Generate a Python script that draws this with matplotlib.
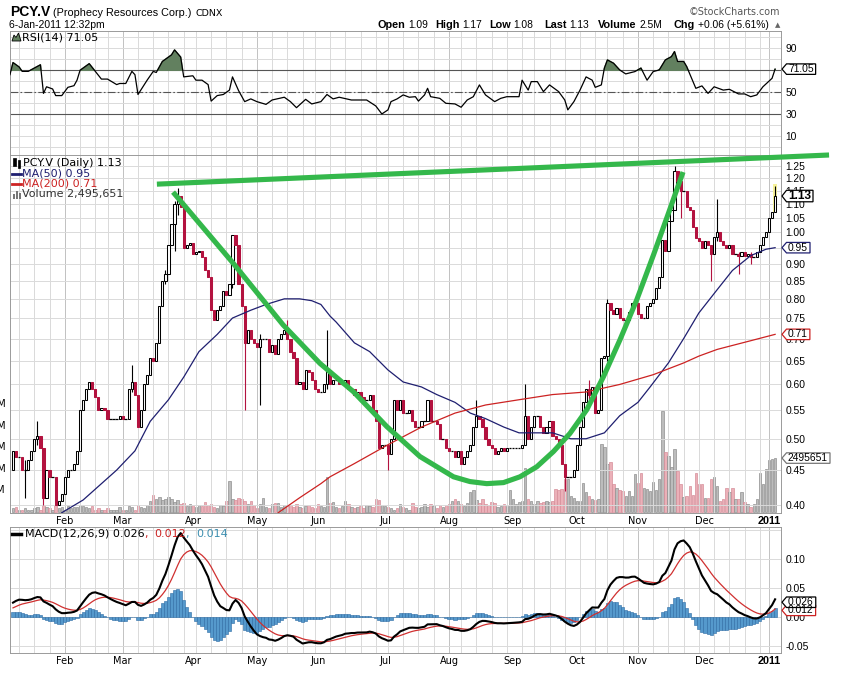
import numpy as np
import pandas as pd
import matplotlib
matplotlib.use("Agg")
import matplotlib.pyplot as plt
from matplotlib.lines import Line2D
from matplotlib.patches import Polygon, Rectangle
from matplotlib.ticker import NullLocator
from matplotlib.transforms import IdentityTransform, blended_transform_factory

W, H = 853, 676

# trading calendar, TSX-V holidays dropped
holidays = ['2010-02-15', '2010-04-02', '2010-05-24', '2010-07-01', '2010-08-02',
            '2010-09-06', '2010-10-11', '2010-12-27', '2010-12-28', '2011-01-03']

# daily closes (open taken as previous close)
first_open = 0.45
closes = [0.48, 0.47, 0.47, 0.45, 0.45, 0.465, 0.48, 0.50, 0.505, 0.485,
          0.41, 0.45, 0.44, 0.44, 0.40, 0.405, 0.415, 0.44, 0.45, 0.45,
          0.46, 0.48, 0.55, 0.57, 0.59, 0.605, 0.59, 0.575, 0.55, 0.555,
          0.55, 0.535, 0.535, 0.535, 0.535, 0.54, 0.535, 0.535, 0.59, 0.605,
          0.58, 0.52, 0.55, 0.60, 0.62, 0.655, 0.65, 0.69, 0.78, 0.85,
          0.87, 0.96, 1.03, 1.10, 1.13, 1.09, 0.95, 0.96, 0.965, 0.93,
          0.935, 0.94, 0.92, 0.88, 0.86, 0.77, 0.745, 0.77, 0.78, 0.82,
          0.81, 0.84, 0.99, 0.96, 0.84, 0.78, 0.69, 0.72, 0.70, 0.69,
          0.68, 0.70, 0.70, 0.70, 0.67, 0.685, 0.665, 0.70, 0.71, 0.72,
          0.70, 0.67, 0.655, 0.60, 0.605, 0.59, 0.63, 0.625, 0.61, 0.59,
          0.585, 0.585, 0.60, 0.63, 0.60, 0.61, 0.61, 0.60, 0.60, 0.61,
          0.59, 0.59, 0.58, 0.585, 0.575, 0.57, 0.57, 0.58, 0.55, 0.53,
          0.485, 0.49, 0.49, 0.475, 0.50, 0.57, 0.55, 0.57, 0.545, 0.545,
          0.55, 0.53, 0.52, 0.52, 0.53, 0.53, 0.57, 0.53, 0.53, 0.525,
          0.50, 0.50, 0.485, 0.48, 0.48, 0.47, 0.48, 0.46, 0.47, 0.48,
          0.49, 0.52, 0.54, 0.535, 0.52, 0.50, 0.49, 0.485, 0.475, 0.48,
          0.485, 0.48, 0.485, 0.485, 0.485, 0.485, 0.485, 0.49, 0.54, 0.50,
          0.52, 0.54, 0.54, 0.52, 0.51, 0.52, 0.53, 0.505, 0.50, 0.49,
          0.46, 0.44, 0.44, 0.44, 0.45, 0.49, 0.52, 0.565, 0.59, 0.58,
          0.595, 0.545, 0.55, 0.655, 0.66, 0.79, 0.77, 0.76, 0.775, 0.75,
          0.745, 0.745, 0.765, 0.79, 0.79, 0.76, 0.75, 0.75, 0.78, 0.79,
          0.80, 0.83, 0.86, 0.975, 0.94, 1.04, 1.08, 1.23, 1.19, 1.15,
          1.15, 1.09, 1.08, 1.02, 0.98, 0.97, 0.95, 0.97, 0.96, 0.93,
          0.985, 1.00, 0.97, 0.96, 0.95, 0.96, 0.93, 0.93, 0.925, 0.935,
          0.925, 0.93, 0.92, 0.92, 0.935, 0.96, 0.985, 1.00, 1.05, 1.07, 1.13]

# daily volume, millions
volume_m = [0.15, 0.2, 0.1, 0.1, 0.15, 0.1, 0.1, 0.15, 0.2, 0.1,
            0.3, 0.2, 0.15, 0.1, 0.3, 0.15, 0.2, 0.1, 0.25, 0.15,
            0.2, 0.2, 0.3, 0.25, 0.2, 0.15, 0.25, 0.1, 0.15, 0.1,
            0.1, 0.15, 0.1, 0.1, 0.1, 0.2, 0.1, 0.1, 0.25, 0.2,
            0.1, 0.3, 0.2, 0.15, 0.3, 0.5, 0.8, 0.6, 0.7, 0.55,
            0.6, 0.7, 0.6, 0.45, 0.55, 0.35, 0.4, 0.25, 0.35, 0.3,
            0.2, 0.3, 0.25, 0.45, 0.3, 0.35, 0.2, 0.15, 0.3, 0.25,
            0.5, 1.45, 0.6, 0.55, 0.65, 0.6, 0.5, 0.35, 0.5, 0.3,
            0.15, 0.35, 0.65, 0.2, 0.15, 0.35, 0.4, 0.4, 0.2, 0.3,
            0.25, 0.3, 0.2, 0.35, 0.2, 0.15, 0.25, 0.3, 0.2, 0.15,
            0.35, 0.25, 0.2, 1.6, 0.4, 0.45, 0.2, 0.15, 0.25, 0.5,
            0.35, 0.2, 0.15, 0.2, 0.25, 0.15, 0.3, 0.25, 0.2, 0.6,
            0.55, 0.3, 0.25, 0.2, 0.15, 0.1, 0.15, 0.35, 0.2, 0.15,
            0.1, 0.4, 0.2, 0.15, 0.2, 0.35, 0.2, 0.35, 0.25, 0.15,
            0.3, 0.2, 0.3, 0.35, 0.5, 0.6, 0.5, 0.35, 0.25, 0.4,
            0.9, 1.0, 0.55, 0.4, 0.6, 0.35, 0.3, 0.45, 0.4, 0.2,
            0.25, 0.35, 0.25, 1.0, 0.6, 0.35, 0.45, 0.5, 2.05, 0.6,
            0.5, 0.35, 0.5, 0.4, 0.45, 0.5, 0.45, 0.5, 1.05, 1.0,
            1.05, 1.5, 1.5, 0.75, 0.65, 0.5, 0.5, 1.35, 0.9, 0.75,
            0.6, 0.55, 0.6, 3.15, 3.0, 2.2, 2.3, 1.3, 1.1, 1.0,
            0.95, 0.75, 0.95, 0.75, 1.75, 1.35, 1.8, 1.1, 1.05, 0.95,
            1.4, 1.0, 1.5, 4.7, 2.8, 2.6, 2.1, 2.9, 1.9, 1.3,
            0.7, 0.75, 1.2, 0.8, 1.8, 1.3, 1.3, 0.65, 0.65, 1.5,
            1.6, 1.2, 0.5, 0.6, 1.1, 0.9, 1.1, 0.6, 0.6, 0.9,
            0.45, 0.35, 0.2, 0.35, 0.6, 1.8, 1.3, 2.0, 2.4, 2.45, 2.495651]

# visible long shadows
wick_days = [4, 8, 10, 39, 50, 53, 54, 72, 76, 81, 90, 103, 123, 152, 168,
             181, 189, 195, 217, 219, 229, 231, 238, 242, 250]
wick_lows = [0.41, 0.49, 0.40, 0.585, 0.84, 0.94, 1.06, 0.83, 0.55, 0.56, 0.70, 0.59, 0.45, 0.52, 0.49,
             0.42, 0.57, 0.65, 1.08, 1.05, 0.85, 0.97, 0.87, 0.90, 1.08]
wick_highs = [0.465, 0.53, 0.485, 0.64, 0.88, 1.11, 1.16, 0.99, 0.78, 0.71, 0.745, 0.72, 0.49, 0.57, 0.60,
              0.46, 0.61, 0.80, 1.25, 1.19, 0.96, 1.12, 0.935, 0.935, 1.17]

ma50_days = [12, 16, 23, 34, 40, 45, 51, 56, 61, 67, 72, 78, 83, 89, 94, 98, 101, 104, 106,
             112, 117, 123, 128, 134, 139, 145, 150, 155, 161, 166, 172, 177, 183, 188, 194,
             199, 205, 209, 215, 220, 225, 231, 236, 242, 247, 250]
ma50_vals = [0.375, 0.39, 0.407, 0.45, 0.48, 0.53, 0.57, 0.615, 0.67, 0.71, 0.75, 0.77, 0.785,
             0.80, 0.80, 0.795, 0.785, 0.755, 0.74, 0.69, 0.67, 0.63, 0.605, 0.595, 0.58, 0.565,
             0.545, 0.535, 0.52, 0.51, 0.51, 0.51, 0.50, 0.50, 0.51, 0.54, 0.565, 0.595, 0.645,
             0.70, 0.763, 0.825, 0.88, 0.925, 0.945, 0.95]
ma200_days = [85, 87, 94, 101, 104, 112, 123, 134, 145, 155, 166, 177, 188, 199, 210, 220,
              225, 231, 242, 250]
ma200_vals = [0.38, 0.39, 0.41, 0.43, 0.44, 0.46, 0.49, 0.52, 0.545, 0.56, 0.57, 0.58, 0.585,
              0.60, 0.62, 0.645, 0.66, 0.675, 0.695, 0.71]

rsi_days = [-1, 0, 2, 3, 5, 7, 9, 10, 11, 13, 14, 16, 18, 20, 21, 22, 25, 27, 29, 31,
            34, 35, 37, 39, 40, 41, 44, 46, 47, 49, 52, 53, 55, 56, 59, 60, 62, 64, 65, 67,
            69, 71, 72, 74, 76, 78, 80, 83, 85, 89, 91, 93, 96, 98, 101, 103, 105, 107, 111, 114,
            116, 119, 121, 123, 124, 126, 128, 130, 132, 133, 135, 136, 137, 140, 142, 145, 147, 149, 151, 153,
            155, 158, 160, 162, 164, 166, 167, 169, 170, 172, 174, 176, 179, 181, 182, 184, 186, 188, 190, 191,
            193, 194, 195, 197, 199, 201, 204, 206, 208, 210, 212, 214, 216, 217, 218, 220, 221, 224, 226, 228,
            230, 233, 235, 238, 240, 242, 244, 246, 249, 250]
rsi_vals = [66, 77, 73, 69, 69, 72, 75, 49, 55, 53, 47, 47, 54.5, 56, 61, 70, 76, 69, 62, 62,
            57, 58, 58, 69, 66, 48, 61, 69, 68, 78, 84, 88.5, 82, 64, 65, 61, 61, 57, 42, 47,
            48, 52, 64, 51.5, 41.5, 44, 41.5, 39, 43, 45.5, 41.5, 36, 43.6, 39.4, 41.5, 48, 44, 45.5, 43, 43,
            43, 37.6, 30.3, 34, 41.5, 44, 47.6, 45.5, 46, 42, 47.6, 53.6, 46, 44.5, 40, 39.4, 36.4, 43, 46, 56.7,
            47.6, 41.5, 44.5, 46, 46, 46, 61, 52, 59.7, 59.7, 50.6, 56.7, 50.6, 43, 34, 41.5, 52, 64, 61, 54.5,
            56.7, 72, 79.4, 76.4, 70.3, 66.7, 68.8, 72, 61, 68.8, 70.3, 79.4, 82.4, 87, 78, 78, 73.3, 53.6, 55.8, 49,
            55, 52, 52.7, 48.5, 48.5, 46, 47.6, 55, 62.7, 71.05]

macd_seeds = [0.395, 0.375, 0.014]      # ema12, ema26, signal at the left edge
macd_legend = [0.026, 0.012, 0.014]

# hand-drawn green annotation (day index, price)
resist_days = [47.2, 267.7]
resist_px = [1.176, 1.297]
cup_days = [52.5, 72.2, 88.6, 100.7, 111.6, 122.6, 133.5, 144.5, 149.9, 155.4, 160.9,
            166.3, 171.8, 177.3, 182.7, 188.2, 193.7, 199.1, 204.6, 210.1, 215.0, 219.8]
cup_px = [1.145, 0.902, 0.733, 0.644, 0.586, 0.521, 0.471, 0.440, 0.433, 0.430, 0.4315,
          0.440, 0.455, 0.479, 0.509, 0.551, 0.616, 0.697, 0.797, 0.927, 1.066, 1.225]

month_names = ['Feb', 'Mar', 'Apr', 'May', 'Jun', 'Jul', 'Aug', 'Sep', 'Oct', 'Nov', 'Dec', '2011']
price_ticks = [0.40, 0.45, 0.50, 0.55, 0.60, 0.65, 0.70, 0.75, 0.80, 0.85, 0.90, 0.95,
               1.00, 1.05, 1.10, 1.15, 1.20, 1.25]
header_keys = ['Open', 'High', 'Low', 'Last', 'Volume', 'Chg']
header_vals = ['1.09', '1.17', '1.08', '1.13', '2.5M', '+0.06 (+5.61%)']
header_x = [378, 435, 489, 544, 598, 674]

RED = '#b3123f'
NAVY = '#1f1f70'
GREEN = '#34b84b'

plt.rcParams['font.family'] = 'DejaVu Sans'

days = pd.bdate_range('2010-01-07', '2011-01-06')
days = days[~days.isin(pd.to_datetime(holidays))]
n = len(days)
x = np.arange(n)
month_idx = [i for i in range(1, n) if days[i].month != days[i - 1].month]
week_idx = [i for i in range(1, n) if days[i].weekday() <= days[i - 1].weekday()]


def ema(vals, span, seed):
    a = 2.0 / (span + 1)
    out, e = [], seed
    for v in vals:
        e += a * (v - e)
        out.append(e)
    return np.array(out)


c = np.array(closes)
o = np.r_[first_open, c[:-1]]
macd = ema(c, 12, macd_seeds[0]) - ema(c, 26, macd_seeds[1])
signal = ema(macd, 9, macd_seeds[2])
hist = macd - signal

fig = plt.figure(figsize=(W / 100, H / 100), dpi=100)
renderer = fig.canvas.get_renderer()


def prect(x0, y0, x1, y1):
    return [x0 / W, 1 - y1 / H, (x1 - x0) / W, (y1 - y0) / H]


def ftext(px, py, s, **kw):
    return fig.text(px, H - py, s, transform=IdentityTransform(), **kw)


def fline(xs, ys, **kw):
    fig.add_artist(Line2D(xs, [H - v for v in ys], transform=IdentityTransform(), **kw))


ax_rsi = fig.add_axes(prect(9.5, 31, 781.5, 155))
ax_vol = fig.add_axes(prect(9.5, 155, 781.5, 512.7))
ax_px = fig.add_axes(prect(9.5, 155, 781.5, 512.7))
ax_macd = fig.add_axes(prect(9.5, 526.7, 781.5, 652.7))
ax_px.patch.set_visible(False)

xlim = (-1.15, 252.1)
for ax in (ax_rsi, ax_vol, ax_px, ax_macd):
    ax.set_xlim(*xlim)
    for w in week_idx:
        ax.axvline(w, color='#c2c2c2' if w in month_idx else '#dadada', lw=0.7, zorder=0)
    for sp in ax.spines.values():
        sp.set_color('#9a9a9a')
        sp.set_linewidth(0.7)
    ax.tick_params(length=0)

# ---- RSI
ax_rsi.set_ylim(-7, 105.7)
for lv in range(0, 101, 10):
    ax_rsi.axhline(lv, color='#dadada', lw=0.7, zorder=0)
ax_rsi.axhline(70, color='#555555', lw=0.8, zorder=1)
ax_rsi.axhline(30, color='#555555', lw=0.8, zorder=1)
ax_rsi.axhline(50, color='#555555', lw=0.8, ls=(0, (7, 2, 1.5, 2)), zorder=1)
rv = np.array(rsi_vals, dtype=float)
ax_rsi.fill_between(rsi_days, rv, 70, where=rv > 70, interpolate=True, color='#62805f', zorder=2)
ax_rsi.plot(rsi_days, rv, color='black', lw=0.9, zorder=3)
ax_rsi.yaxis.tick_right()
ax_rsi.set_yticks([10, 30, 50, 90], labels=['10', '30', '50', '90'])
ax_rsi.set_xticks(month_idx, labels=[])
ax_rsi.tick_params(axis='y', pad=3, labelsize=7.4)

# ---- volume (behind price)
ax_vol.set_ylim(-0.047, 16.6)
for sp in ax_vol.spines.values():
    sp.set_visible(False)
ax_vol.set_xticks([])
ax_vol.set_yticks([])
down = c < o
ax_vol.bar(x, volume_m, width=0.8, color=np.where(down, '#ebb0b8', '#bcbcbc'),
           edgecolor=np.where(down, '#d68e99', '#909090'), linewidth=0.5, zorder=2)
vtr = blended_transform_factory(ax_vol.transAxes, ax_vol.transData)
for v in [1, 2, 3, 4, 5]:
    ax_vol.text(-0.0045, v, f'{v}M', transform=vtr, ha='right', va='center',
                fontsize=7, clip_on=False)

# ---- price
ax_px.set_yscale('log')
ax_px.set_ylim(0.390, 1.297)
for p in price_ticks:
    ax_px.axhline(p, color='#dadada', lw=0.7, zorder=0)
ax_px.add_patch(Rectangle((249.3, 1.07), 1.4, 0.105, fc='#f6f29a', ec='none', zorder=2))
col = np.where(down, RED, 'black')
face = np.where(c > o, 'white', col)
flat = np.isclose(c, o)
body = ~flat
ax_px.bar(x[body], np.abs(c - o)[body], bottom=np.minimum(c, o)[body], width=0.72,
          color=face[body], edgecolor=col[body], linewidth=0.75, zorder=4)
ax_px.hlines(c[flat], x[flat] - 0.45, x[flat] + 0.45, color='black', lw=0.9, zorder=4)
for d, lo, hi in zip(wick_days, wick_lows, wick_highs):
    ax_px.vlines(d, lo, hi, color=col[d], lw=0.8, zorder=3)
ax_px.plot(ma50_days, ma50_vals, color=NAVY, lw=0.9, zorder=5)
ax_px.plot(ma200_days, ma200_vals, color='#cc2222', lw=0.9, zorder=5)
ax_px.plot(resist_days, resist_px, color=GREEN, lw=3.7, clip_on=False, zorder=12,
           solid_capstyle='butt')
ax_px.plot(cup_days, cup_px, color=GREEN, lw=3.7, zorder=12,
           solid_capstyle='butt', solid_joinstyle='round')
ax_px.yaxis.tick_right()
# the 0.95 level sits under the MA(50) tag, so its label is left blank
ax_px.set_yticks(price_ticks, labels=['' if p == 0.95 else f'{p:.2f}' for p in price_ticks])
ax_px.yaxis.set_minor_locator(NullLocator())
ax_px.set_xticks(month_idx, labels=month_names)
ax_px.tick_params(axis='y', pad=3, labelsize=7.4)
ax_px.tick_params(axis='x', pad=2.5, labelsize=7)

# ---- MACD
ax_macd.set_ylim(-0.061, 0.1562)
for lv in [-0.05, 0.0, 0.05, 0.10, 0.15]:
    ax_macd.axhline(lv, color='#dadada', lw=0.7, zorder=0)
ax_macd.bar(x, hist, width=1.0, color='#5599cc', edgecolor='#2c6aa3', linewidth=0.4, zorder=2)
ax_macd.plot(x, signal, color='#d03030', lw=0.9, zorder=3)
ax_macd.plot(x, macd, color='black', lw=1.5, zorder=4)
ax_macd.yaxis.tick_right()
ax_macd.set_yticks([-0.05, 0.0, 0.05, 0.10], labels=['-0.05', '0.00', '0.05', '0.10'])
ax_macd.set_xticks(month_idx, labels=month_names)
ax_macd.tick_params(axis='y', pad=3, labelsize=7.4)
ax_macd.tick_params(axis='x', pad=2.5, labelsize=7)

for ax in (ax_rsi, ax_px, ax_macd):
    for lbl in ax.get_yticklabels():
        lbl.set_fontfamily('Liberation Sans')
for ax in (ax_px, ax_macd):
    last = ax.get_xticklabels()[-1]
    last.set_fontweight('bold')
    last.set_fontfamily('Liberation Sans')
    last.set_fontsize(7.8)


# ---- value tags on the right edge
def tag(ax, val, label, edge, bold=False, size=7.4):
    yd = ax.transData.transform((0, val))[1]
    x0 = 782.0
    t = fig.text(x0 + 6, yd, label, transform=IdentityTransform(), ha='left', va='center',
                 fontsize=size, family='Liberation Sans',
                 fontweight='bold' if bold else 'normal', zorder=21)
    w = t.get_window_extent(renderer).width
    h = 11.5 if bold else 10.5
    pts = [[x0, yd], [x0 + 4.5, yd + h / 2], [x0 + 8 + w, yd + h / 2],
           [x0 + 8 + w, yd - h / 2], [x0 + 4.5, yd - h / 2]]
    fig.add_artist(Polygon(pts, closed=True, transform=IdentityTransform(), fc='white',
                           ec=edge, lw=0.9, zorder=20))


tag(ax_rsi, rsi_vals[-1], f'{rsi_vals[-1]:.2f}', 'black')
tag(ax_px, ma200_vals[-1], f'{ma200_vals[-1]:.2f}', '#cc2222')
tag(ax_px, ma50_vals[-1], f'{ma50_vals[-1]:.2f}', NAVY)
tag(ax_px, closes[-1], f'{closes[-1]:.2f}', 'black', bold=True, size=8.6)
tag(ax_vol, volume_m[-1], f'{volume_m[-1] * 1e6:.0f}', '#777777')
tag(ax_macd, macd_legend[1], f'{macd_legend[1]:.3f}', '#cc2222')
tag(ax_macd, macd_legend[0], f'{macd_legend[0]:.3f}', 'black')

# ---- header
t = ftext(10, 16, 'PCY.V', fontsize=10, fontweight='bold', family='Liberation Sans')
xx = 10 + t.get_window_extent(renderer).width + 3
t = ftext(xx, 16, '(Prophecy Resources Corp.)', fontsize=7.8, family='Liberation Sans')
xx += t.get_window_extent(renderer).width + 4
ftext(xx, 16, 'CDNX', fontsize=6.8)
ftext(9, 27.7, '6-Jan-2011 12:32pm', fontsize=7.5, family='Liberation Sans')
ftext(780, 15, '\u00a9StockCharts.com', fontsize=6.9, color='#555555', ha='right')
for k, v, hx in zip(header_keys, header_vals, header_x):
    t = ftext(hx, 27.7, k, fontsize=7.8, fontweight='bold', family='Liberation Sans')
    ftext(hx + t.get_window_extent(renderer).width + 3, 27.7, v, fontsize=7.4,
          family='Liberation Sans')
ftext(778, 27, '\u25b2', fontsize=5, color='#666666', ha='center')

# ---- legends
fig.add_artist(Polygon([[12, H - 41], [14, H - 35], [16, H - 37.5], [18.5, H - 33], [21, H - 41]],
                       closed=True, transform=IdentityTransform(), fc='#62805f', ec='black', lw=0.6))
ftext(22, 37, f'RSI(14) {rsi_vals[-1]:.2f}', fontsize=8, va='center')

for bx, by0, by1 in [(13, 158, 166), (17.5, 160, 168)]:
    fig.add_artist(Rectangle((bx, H - by1), 2.5, by1 - by0, transform=IdentityTransform(),
                             fc='black', ec='black', lw=0.5))
ftext(23, 162.7, f'PCY.V (Daily) {closes[-1]:.2f}', fontsize=8, va='center')
fline([12, 21], [173.5, 173.5], color=NAVY, lw=2)
ftext(22, 173.5, f'MA(50) {ma50_vals[-1]:.2f}', fontsize=8, va='center', color=NAVY)
fline([12, 21], [184, 184], color='#cc2222', lw=2)
ftext(22, 184, f'MA(200) {ma200_vals[-1]:.2f}', fontsize=8, va='center', color='#cc2222')
for bx, bh in [(12.5, 5), (15.5, 8), (18.5, 6)]:
    fig.add_artist(Rectangle((bx, H - 198.5), 2, bh, transform=IdentityTransform(),
                             fc='#777777', ec='none'))
ftext(22, 194.3, f'Volume {volume_m[-1] * 1e6:,.0f}', fontsize=8, va='center', color='#333333')

fline([12, 21], [534, 534], color='black', lw=2.5)
xx = 25
for s, cc in [(f'MACD(12,26,9) {macd_legend[0]:.3f}', 'black'), (', ', '#cc2222'),
              (f'{macd_legend[1]:.3f}', '#cc2222'), (', ', '#3d8fb0'),
              (f'{macd_legend[2]:.3f}', '#3d8fb0')]:
    t = ftext(xx, 534, s, fontsize=8, va='center', color=cc)
    xx += t.get_window_extent(renderer).width + (3 if s == ', ' else 0)

fig.savefig('out.png', dpi=100)
